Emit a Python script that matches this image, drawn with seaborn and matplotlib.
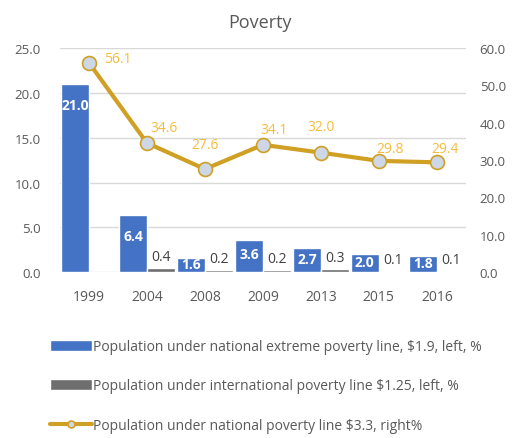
import numpy as np
import pandas as pd
import matplotlib
matplotlib.use('Agg')
import matplotlib.pyplot as plt
import seaborn as sns

# data
years = ['1999', '2004', '2008', '2009', '2013', '2015', '2016']
extreme = [21.0, 6.4, 1.6, 3.6, 2.7, 2.0, 1.8]
international = [np.nan, 0.4, 0.2, 0.2, 0.3, 0.1, 0.1]
national = [56.1, 34.6, 27.6, 34.1, 32.0, 29.8, 29.4]

lab_extreme = 'Population under national extreme poverty line, $1.9, left, %'
lab_intl = 'Population under international poverty line $1.25, left, %'
lab_nat = 'Population under national poverty line $3.3, right%'

df = pd.DataFrame({
    'year': years * 2,
    'series': [lab_extreme] * len(years) + [lab_intl] * len(years),
    'value': extreme + international,
})

# style
sns.set_style('white')
plt.rcParams['font.family'] = ['Open Sans', 'DejaVu Sans']
txt = '#595959'
blue, gray, gold = '#4472C4', '#6E6E6E', '#D0A024'

fig = plt.figure(figsize=(5.21, 4.39), dpi=100)
ax = fig.add_axes([0.115, 0.378, 0.779, 0.510])

sns.barplot(data=df, x='year', y='value', hue='series',
            hue_order=[lab_extreme, lab_intl], palette=[blue, gray],
            saturation=1, width=0.96, gap=0, legend=False, ax=ax)

ax.set_ylim(0, 25)
ax.set_yticks(np.arange(0, 26, 5))
ax.set_yticklabels([f'{v:.1f}' for v in np.arange(0, 26, 5)])
ax.set_xlim(-0.5, len(years) - 0.5)
ax.set_xlabel('')
ax.set_ylabel('')
ax.grid(axis='y', color='#D9D9D9', linewidth=1)
ax.set_axisbelow(True)
for s in ax.spines.values():
    s.set_visible(False)
ax.tick_params(axis='both', length=0, labelsize=9.5, colors=txt)
ax.tick_params(axis='x', pad=12, labelsize=10)
ax.tick_params(axis='y', pad=14)

# bar labels
blue_bars = ax.containers[0]
gray_bars = ax.containers[1]
for rect, v in zip(blue_bars, extreme):
    xc = rect.get_x() + rect.get_width() / 2
    ax.text(xc, v - min(2.4, v * 0.45), f'{v:.1f}', ha='center', va='center',
            color='white', fontsize=10, fontweight='bold')
intl_valid = [v for v in international if not np.isnan(v)]
for rect, v in zip(gray_bars, intl_valid):
    xc = rect.get_x() + rect.get_width() / 2
    ax.annotate(f'{v:.1f}', (xc, v), xytext=(0, 3), textcoords='offset points',
                ha='center', va='bottom', color='#404040', fontsize=10)

# right axis line
ax2 = ax.twinx()
x = np.arange(len(years))
line, = ax2.plot(x, national, color=gold, linewidth=3, marker='o',
                 markersize=10, markerfacecolor='#CDD7E6',
                 markeredgecolor=gold, markeredgewidth=1.2, zorder=5)
ax2.set_ylim(0, 60)
ax2.set_yticks(np.arange(0, 61, 10))
ax2.set_yticklabels([f'{v:.1f}' for v in np.arange(0, 61, 10)])
for s in ax2.spines.values():
    s.set_visible(False)
ax2.tick_params(axis='y', length=0, labelsize=9.5, colors=txt, pad=10)

offsets = [(21, 3), (12, 11), (0, 18), (8, 11), (0, 19), (8, 9), (6, 10)]
for xi, v, off in zip(x, national, offsets):
    ax2.annotate(f'{v:.1f}', (xi, v), xytext=off, textcoords='offset points',
                 ha='center', va='center', color='#F5BC3C', fontsize=10)

fig.text(0.5, 0.948, 'Poverty', ha='center', va='center', fontsize=13, color=txt)

fig.legend([blue_bars, gray_bars, line], [lab_extreme, lab_intl, lab_nat],
           loc='upper left', bbox_to_anchor=(0.085, 0.238), frameon=False,
           fontsize=10, labelcolor=txt, handlelength=3.0, handleheight=0.8,
           handletextpad=0.1, labelspacing=1.75, borderaxespad=0,
           markerscale=0.5)

fig.savefig('out.png', dpi=100)
